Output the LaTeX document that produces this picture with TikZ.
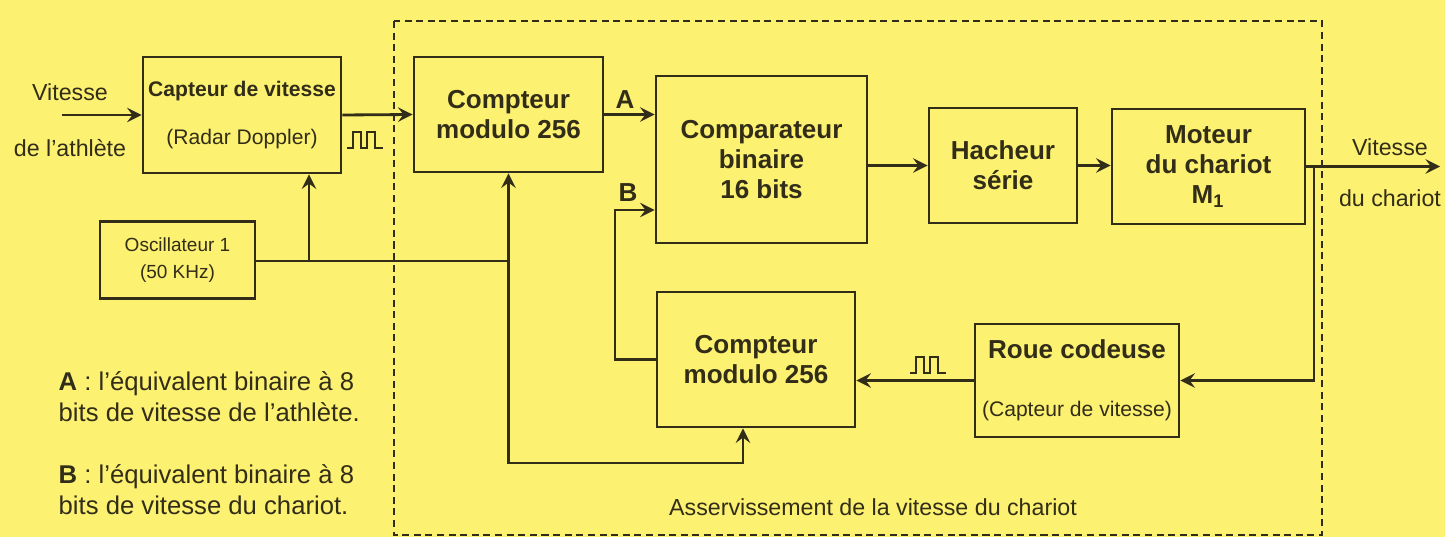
\documentclass[tikz,border=0pt]{standalone}
\usepackage{fontspec}
\setmainfont{Liberation Sans}
\definecolor{fond}{RGB}{252,241,112}
\definecolor{encre}{RGB}{50,45,25}
\newcommand{\blocfont}{\fontsize{7.4}{8.6}\selectfont\bfseries}
\newcommand{\petitfont}{\fontsize{6}{7.6}\selectfont}
\newcommand{\labelfont}{\fontsize{6.6}{8}\selectfont}
\tikzset{
  bloc/.style={draw=encre, line width=0.8pt, inner sep=0pt, align=center, text=encre, font=\blocfont},
  etiquette/.style={text=encre, inner sep=1pt, font=\labelfont},
  lettre/.style={text=encre, inner sep=1pt, font=\blocfont},
  legende/.style={text=encre, inner sep=0pt, align=left, anchor=west, font=\fontsize{7.3}{8.8}\selectfont},
  fleche/.style={->, draw=encre, line width=0.8pt},
  pics/creneaux/.style={code={
    \draw[encre, line width=0.5pt] (-18,8) -- (-12,8) -- (-12,-8) -- (-4,-8) -- (-4,8) -- (2,8)
      -- (2,-8) -- (10,-8) -- (10,8) -- (18,8);}}
}
\begin{document}
\begin{tikzpicture}[x=0.01cm, y=-0.01cm, >=stealth]
\useasboundingbox (0,0) rectangle (1445,537);
\fill[fond] (0,0) rectangle (1445,537);
% cadre de l'asservissement
\draw[encre, line width=0.6pt, dash pattern=on 2pt off 1.3pt] (394,21) rectangle (1322,535);
\node[etiquette] (titre) at (873,507) {Asservissement de la vitesse du chariot};

\node[bloc, font=\petitfont, minimum width=1.98cm, minimum height=1.16cm] (capt) at (242,115)
  {\textbf{Capteur de vitesse}\\[6pt](Radar Doppler)};
\node[bloc, font=\fontsize{5.4}{7.6}\selectfont, minimum width=1.55cm, minimum height=0.77cm] (osc) at (177.5,260)
  {Oscillateur 1\\(50 KHz)};
\node[bloc, minimum width=1.89cm, minimum height=1.15cm] (cpt1) at (508.5,114.5) {Compteur\\modulo 256};
\node[bloc, minimum width=2.11cm, minimum height=1.67cm] (comp) at (761.5,159.5) {Comparateur\\binaire\\16 bits};
\node[bloc, minimum width=1.48cm, minimum height=1.15cm] (hach) at (1003,165.5) {Hacheur\\série};
\node[bloc, minimum width=1.93cm, minimum height=1.15cm] (mot) at (1208.5,166.5) {Moteur\\du chariot\\M$_{\mathbf{1}}$};
\node[bloc, minimum width=1.98cm, minimum height=1.35cm] (cpt2) at (756,359.5) {Compteur\\modulo 256};
\node[bloc, minimum width=2.04cm, minimum height=1.13cm] (roue) at (1077,380.5)
  {Roue codeuse\\[8pt]{\petitfont\mdseries (Capteur de vitesse)}};

% entree et sortie
\node[etiquette] (vit1) at (70,92) {Vitesse};
\node[etiquette] (vit2) at (70,148) {de l'athlète};
\coordinate (entree) at (62,115);
\draw[fleche] (entree) -- (capt.west);
\node[etiquette] (vit3) at (1390,147) {Vitesse};
\node[etiquette] (vit4) at (1390,198) {du chariot};
\coordinate (sortie) at (1440,166.5);
\draw[fleche] (mot.east) -- (sortie);

% chaine directe
\draw[fleche] (capt.east) -- (cpt1.west);
\pic at (365,140) {creneaux};
\draw[fleche] (cpt1.east) -- (cpt1.east -| comp.west);
\node[lettre] (lA) at (625,100) {A};
\draw[fleche] (hach.west -| comp.east) -- (hach.west);
\draw[fleche] (hach.east) -- (hach.east -| mot.west);

% retour
\coordinate (fb) at (1314,166.5);
\draw[fleche] (fb) |- (roue.east);
\draw[fleche] (roue.west) -- (roue.west -| cpt2.east);
\pic at (928,365) {creneaux};
\coordinate (bj) at (615,210);
\draw[fleche] (cpt2.west) -| (bj) -- (bj -| comp.west);
\node[lettre] (lB) at (628,193) {B};

% horloge
\coordinate (j1) at (309,261);
\coordinate (j2) at (508.5,261);
\coordinate (cb) at (743,463);
\draw[encre, line width=0.8pt] (osc.east |- j1) -- (j2);
\draw[fleche] (j1) -- (j1 |- capt.south);
\draw[fleche] (j2) -- (cpt1.south);
\draw[fleche] (j2) |- (cb) -- (cb |- cpt2.south);

% legende
\node[legende] (legA) at (58,397) {\textbf{A} : l'équivalent binaire à 8\\bits de vitesse de l'athlète.};
\node[legende] (legB) at (58,490) {\textbf{B} : l'équivalent binaire à 8\\bits de vitesse du chariot.};
\end{tikzpicture}
\end{document}
